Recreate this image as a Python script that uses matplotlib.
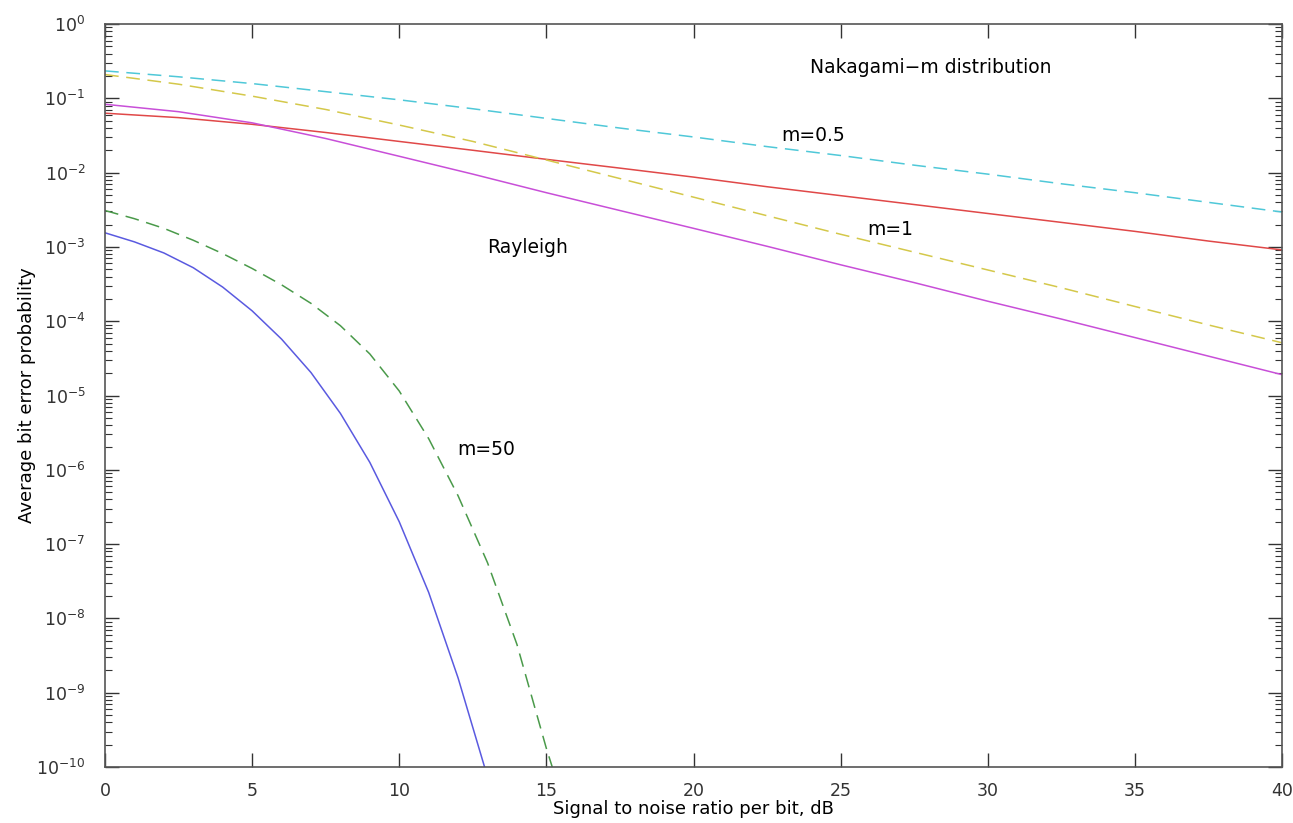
import numpy as np
import matplotlib
matplotlib.use("Agg")
import matplotlib.pyplot as plt
from matplotlib.ticker import LogLocator, NullFormatter

# values
snr_db = [0, 2.5, 5, 7.5, 10, 12.5, 15, 17.5, 20, 22.5, 25, 27.5, 30, 32.5, 35, 37.5, 40]

pb_cyan = [0.234, 0.195, 0.158, 0.123, 0.0955, 0.0724, 0.0537, 0.0398, 0.0302,
           0.0224, 0.0170, 0.0126, 0.00955, 0.00708, 0.00537, 0.00398, 0.00295]
pb_red = [0.0631, 0.0550, 0.0447, 0.0347, 0.0263, 0.0200, 0.0151, 0.0115, 0.00871,
          0.00646, 0.00490, 0.00372, 0.00282, 0.00214, 0.00162, 0.00120, 0.000912]
pb_yellow = [0.209, 0.155, 0.107, 0.0708, 0.0437, 0.0263, 0.0148, 0.00832, 0.00468,
             0.00263, 0.00148, 8.51e-4, 4.90e-4, 2.82e-4, 1.58e-4, 8.91e-5, 5.13e-5]
pb_magenta = [0.0832, 0.0661, 0.0468, 0.0288, 0.0166, 0.00955, 0.00537, 0.00309, 0.00178,
              0.00102, 5.75e-4, 3.31e-4, 1.86e-4, 1.07e-4, 6.03e-5, 3.39e-5, 1.91e-5]

snr_green = [0, 1, 2, 3, 4, 5, 6, 7, 8, 9, 10, 11, 12, 13, 14, 15, 15.2]
pb_green = [3.09e-3, 2.40e-3, 1.78e-3, 1.23e-3, 8.13e-4, 5.13e-4, 3.09e-4, 1.74e-4, 8.71e-5,
            3.63e-5, 1.15e-5, 2.63e-6, 4.47e-7, 5.62e-8, 4.47e-9, 1.78e-10, 1.0e-10]

snr_blue = [0, 1, 2, 3, 4, 5, 6, 7, 8, 9, 10, 11, 12, 12.9]
pb_blue = [1.55e-3, 1.17e-3, 8.3e-4, 5.25e-4, 2.88e-4, 1.38e-4, 5.75e-5, 2.04e-5, 5.75e-6,
           1.26e-6, 2.0e-7, 2.24e-8, 1.58e-9, 1.0e-10]

decades = list(range(0, -11, -1))

fig = plt.figure(figsize=(12.93, 8.23), dpi=100)
ax = fig.add_axes([0.0812, 0.068, 0.9103, 0.9028])

ax.semilogy(snr_db, pb_cyan, color="#4fc8d8", lw=1.1, dashes=(9, 5))
ax.semilogy(snr_db, pb_red, color="#e04848", lw=1.1)
ax.semilogy(snr_db, pb_yellow, color="#d4c84a", lw=1.1, dashes=(9, 5))
ax.semilogy(snr_db, pb_magenta, color="#c84fd8", lw=1.1)
ax.semilogy(snr_green, pb_green, color="#4a9a4a", lw=1.1, dashes=(9, 5))
ax.semilogy(snr_blue, pb_blue, color="#5a5ae0", lw=1.1)

ax.set_xlim(0, 40)
ax.set_ylim(1e-10, 1)
ax.set_xticks(range(0, 41, 5))
ax.set_yticks([10.0 ** d for d in decades])
ax.yaxis.set_minor_locator(LogLocator(base=10, subs=np.arange(2, 10), numticks=100))
ax.yaxis.set_minor_formatter(NullFormatter())

ax.tick_params(which="both", direction="in", top=True, right=True, labelsize=12.5, colors="#333333")
ax.tick_params(which="major", length=10, width=1)
ax.tick_params(which="minor", length=5, width=0.8)
ax.tick_params(axis="x", pad=11)
ax.tick_params(axis="y", pad=14)
for s in ax.spines.values():
    s.set_color("#555555")
    s.set_linewidth(1.2)

ax.set_xlabel("Signal to noise ratio per bit, dB", fontsize=13, labelpad=0)
ax.set_ylabel("Average bit error probability", fontsize=13, labelpad=0)

ax.text(23.96, 0.264, "Nakagami\u2212m distribution", fontsize=13.5, va="center")
ax.text(22.97, 0.032, "m=0.5", fontsize=13.5, va="center")
ax.text(25.9, 1.74e-3, "m=1", fontsize=13.5, va="center")
ax.text(13.0, 9.8e-4, "Rayleigh", fontsize=13.5, va="center")
ax.text(11.97, 1.86e-6, "m=50", fontsize=13.5, va="center")

fig.savefig("out.png", dpi=100)
